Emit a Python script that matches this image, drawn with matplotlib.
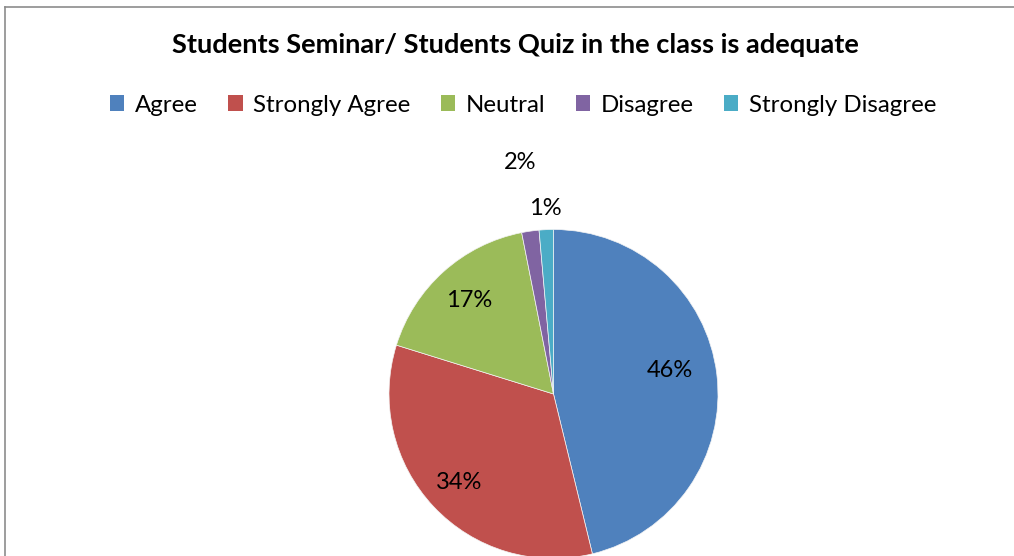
import numpy as np
import matplotlib.pyplot as plt
from matplotlib.lines import Line2D
from matplotlib.patches import Patch

# Survey answers (percent of students)
labels = ["Agree", "Strongly Agree", "Neutral", "Disagree", "Strongly Disagree"]
shares = [46.2, 33.6, 17.1, 1.7, 1.4]
colors = ["#4F81BD", "#C0504D", "#9BBB59", "#8064A2", "#4BACC6"]
title = "Students Seminar/ Students Quiz in the class is adequate"

plt.rcParams['font.family'] = ['Lato', 'DejaVu Sans']

W, H = 1014, 556
fig = plt.figure(figsize=(W / 100, H / 100), dpi=100)

# chart frame (only top and left edges are visible)
fig.add_artist(Line2D([4.5 / W, 4.5 / W], [0, 1 - 6.5 / H], color="#8c8c8c", lw=1.2))
fig.add_artist(Line2D([4.5 / W, 1], [1 - 6.5 / H, 1 - 6.5 / H], color="#8c8c8c", lw=1.2))

# pie axes: center (553.5, 394) px, radius 164.5 px
cx, cy, r = 553.5, H - 394, 164.5
ax = fig.add_axes([(cx - r) / W, (cy - r) / H, 2 * r / W, 2 * r / H])
wedges, texts = ax.pie(shares, colors=colors, startangle=90, counterclock=False,
                       radius=1, wedgeprops=dict(linewidth=0.5, edgecolor="#f4f4f4"))
ax.set_xlim(-1, 1)
ax.set_ylim(-1, 1)
ax.set_aspect("equal")
ax.axis("off")

# percent labels, placed along each wedge's middle angle
label_dist = [0.72, 0.785, 0.767, 1.42, 1.126]
label_turn = [4.8, 0, 0, 0, 0]
for w, v, d, t in zip(wedges, shares, label_dist, label_turn):
    ang = np.deg2rad((w.theta1 + w.theta2) / 2 + t)
    ax.text(d * np.cos(ang), d * np.sin(ang), f"{v:.0f}%", ha="center", va="center",
            fontsize=17, color="black", clip_on=False)

fig.text(0.508, 1 - 45 / H, title, ha="center", va="center", fontsize=19.6, fontweight="bold")

handles = [Patch(facecolor=c, edgecolor="none") for c in colors]
fig.legend(handles, labels, loc="center", bbox_to_anchor=(0.516, 1 - 105 / H), ncol=5,
           frameon=False, fontsize=17.3, handlelength=0.6, handleheight=0.6,
           handletextpad=0.45, columnspacing=1.25)

fig.savefig("out.png", dpi=100)
